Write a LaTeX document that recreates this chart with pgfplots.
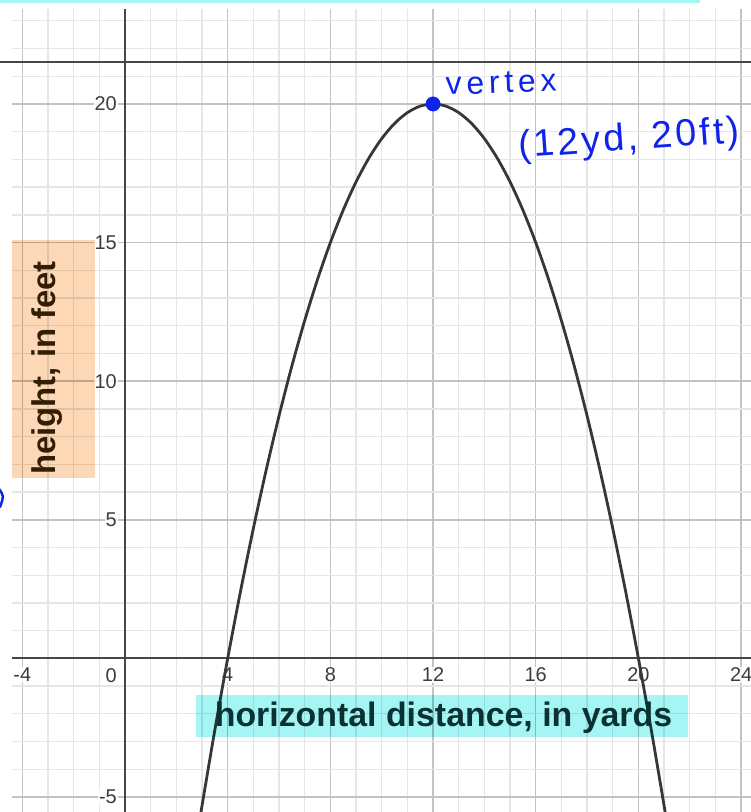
\documentclass[border=0pt]{standalone}
\usepackage{fontspec}
\setmainfont{Liberation Sans}
\usepackage{pgfplots}
\pgfplotsset{compat=1.18}
\definecolor{gridminor}{RGB}{230,230,230}
\definecolor{gridmajor}{RGB}{195,195,195}
\definecolor{axisgray}{RGB}{70,70,70}
\definecolor{curvegray}{RGB}{55,55,55}
\definecolor{ticktext}{RGB}{60,60,60}
\definecolor{pen}{RGB}{15,35,235}
\definecolor{hlcyan}{RGB}{165,245,245}
\definecolor{hlorange}{RGB}{252,216,182}
\definecolor{cyantext}{RGB}{10,50,50}
\definecolor{orangetext}{RGB}{50,30,5}
\begin{document}
\begin{tikzpicture}[x=1bp,y=1bp]
\begin{axis}[
  at={(11.7bp,0bp)}, anchor=south west,
  scale only axis, width=739.3bp, height=802.7bp,
  xmin=-4.414, xmax=24.386, ymin=-5.541, ymax=23.416,
  axis lines=middle,
  axis line style={-, axisgray, line width=2bp},
  inner axis line style={-},
  xtick={-4,4,8,12,16,20,24},
  ytick={-5,5,10,15,20},
  minor xtick={-5,-4,...,25},
  minor ytick={-6,-5,...,24},
  major tick length=0pt, minor tick length=0pt,
  grid=both,
  major grid style={gridmajor, line width=1.5bp},
  minor grid style={gridminor, line width=1.3bp},
  tick label style={font=\fontsize{20}{20}\selectfont, text=ticktext, fill=white, fill opacity=0.85, text opacity=1, inner sep=1bp},
  xticklabel style={anchor=north, yshift=-8bp},
  yticklabel style={anchor=east, xshift=-7bp},
  /pgf/number format/assume math mode=true,
]
\addplot[curvegray, line width=2.8bp, smooth] coordinates {
(2.9,-5.878) (3,-5.313) (3.5,-2.578) (4,0) (4.5,2.422) (5,4.688) (5.5,6.797)
(6,8.75) (6.5,10.547) (7,12.188) (7.5,13.672) (8,15) (8.5,16.172) (9,17.188)
(9.5,18.047) (10,18.75) (10.5,19.297) (11,19.688) (11.5,19.922) (12,20)
(12.5,19.922) (13,19.688) (13.5,19.297) (14,18.75) (14.5,18.047) (15,17.188)
(15.5,16.172) (16,15) (16.5,13.672) (17,12.188) (17.5,10.547) (18,8.75)
(18.5,6.797) (19,4.688) (19.5,2.422) (20,0) (20.5,-2.578) (21,-5.313) (21.1,-5.878)
};
\addplot[only marks, mark=*, mark size=7.2bp, pen] coordinates {(12,20)};
\end{axis}
% white margins of the screenshot
\fill[white] (0,0) rectangle (11.7,812);
\fill[white] (0,802.7) rectangle (751,812);
\fill[hlcyan] (0,809.3) rectangle (700,812);
\draw[axisgray, line width=2.2bp] (0,749.7) -- (751,749.7);
% origin label
\node[anchor=north east, inner sep=0, text=ticktext, font=\fontsize{20}{20}\selectfont] at (117,144) {0};
% highlighted axis labels
\fill[hlorange, blend mode=multiply] (12,334) rectangle (95,572);
\node[rotate=90, anchor=base, text=orangetext, font=\fontsize{33}{33}\selectfont\bfseries, inner sep=0] at (55,444) {height, in feet};
\fill[hlcyan, blend mode=multiply] (196,75) rectangle (688,117);
\node[anchor=base, text=cyantext, font=\fontsize{34}{34}\selectfont\bfseries, inner sep=0] at (443.5,85) {horizontal distance, in yards};
% handwritten notes
\node[anchor=base west, rotate=2, text=pen, font=\fontsize{32}{32}\selectfont\addfontfeatures{LetterSpace=15}, inner sep=0] at (446,717) {vertex};
\node[anchor=base west, rotate=4, text=pen, font=\fontsize{38}{38}\selectfont\addfontfeatures{LetterSpace=8}, inner sep=0] at (519,654) {(12yd, 20ft)};
\draw[pen, line width=2.5bp, line cap=round] (-1,323) .. controls (4,316) .. (0,305);
\pgfresetboundingbox
\useasboundingbox (0,0) rectangle (751,812);
\end{tikzpicture}
\end{document}
